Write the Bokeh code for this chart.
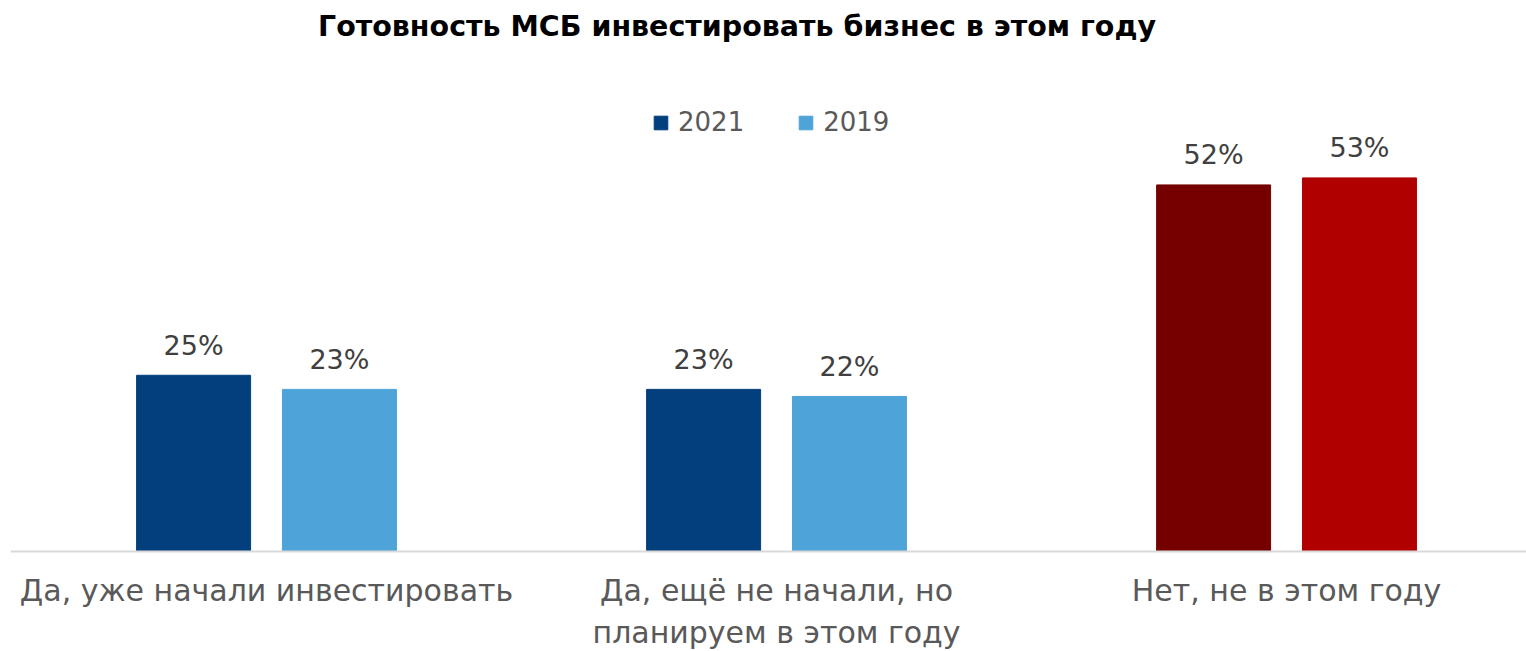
from bokeh.plotting import figure
from bokeh.models import ColumnDataSource, LabelSet, Label, Legend, LegendItem, Range1d, Span
from bokeh.embed import file_html
from bokeh.resources import INLINE
from bokeh.core.properties import value

# ---- data ----
title_text = "Готовность МСБ инвестировать бизнес в этом году"
categories = ["Да, уже начали инвестировать",
              "Да, ещё не начали, но\nпланируем в этом году",
              "Нет, не в этом году"]
series_names = ["2021", "2019"]
values_2021 = [25, 23, 52]
values_2019 = [23, 22, 53]

# ---- style ----
colors_2021 = ["#023F7C", "#023F7C", "#750000"]
colors_2019 = ["#4EA3D9", "#4EA3D9", "#B00000"]
FONT = "DejaVu Sans"
TXT = "#595959"
OFF = 0.143
BAR_W = 0.2235

idx = list(range(len(categories)))
src21 = ColumnDataSource(dict(x=[i - OFF for i in idx], top=values_2021, color=colors_2021,
                              label=[f"{v}%" for v in values_2021]))
src19 = ColumnDataSource(dict(x=[i + OFF for i in idx], top=values_2019, color=colors_2019,
                              label=[f"{v}%" for v in values_2019]))
src_cat = ColumnDataSource(dict(x=idx, y=[0] * len(idx), text=categories))

p = figure(width=1526, height=651, output_backend="svg", toolbar_location=None,
           x_range=Range1d(-0.502, 2.4705), y_range=Range1d(-14.18, 78.16),
           x_axis_location=None, y_axis_location=None,
           min_border_left=10, min_border_right=0, min_border_top=0, min_border_bottom=0)
p.outline_line_color = None
p.xgrid.visible = False
p.ygrid.visible = False

# baseline (category axis line)
p.add_layout(Span(location=0, dimension="width", line_color="#D9D9D9", line_width=2))

r21 = p.vbar(x="x", top="top", width=BAR_W, color="color", source=src21)
r19 = p.vbar(x="x", top="top", width=BAR_W, color="color", source=src19)

for s in (src21, src19):
    p.add_layout(LabelSet(x="x", y="top", text="label", source=s, text_align="center",
                          text_baseline="middle", y_offset=30, text_font=value(FONT),
                          text_font_size="27px", text_color="#404040"))

# category labels
p.text(x="x", y="y", text="text", source=src_cat, text_align="center", text_baseline="top",
       y_offset=21, text_font=value(FONT), text_font_size="30px", text_color=TXT,
       text_line_height=1.2)

p.add_layout(Label(x=0.9225, y=74.47, text=title_text, text_align="center", text_baseline="middle",
                   text_font=FONT, text_font_size="28.5px", text_font_style="bold",
                   text_color="black"))

legend = Legend(items=[LegendItem(label=series_names[0], renderers=[r21], index=0),
                       LegendItem(label=series_names[1], renderers=[r19], index=0)],
                orientation="horizontal", location=(642, 514), padding=0, margin=0,
                spacing=53, label_standoff=9, glyph_width=17, glyph_height=17,
                border_line_color=None, background_fill_alpha=0,
                label_text_font=FONT, label_text_font_size="26px", label_text_color=TXT)
p.add_layout(legend)

open("out.html", "w").write(file_html(p, INLINE))
